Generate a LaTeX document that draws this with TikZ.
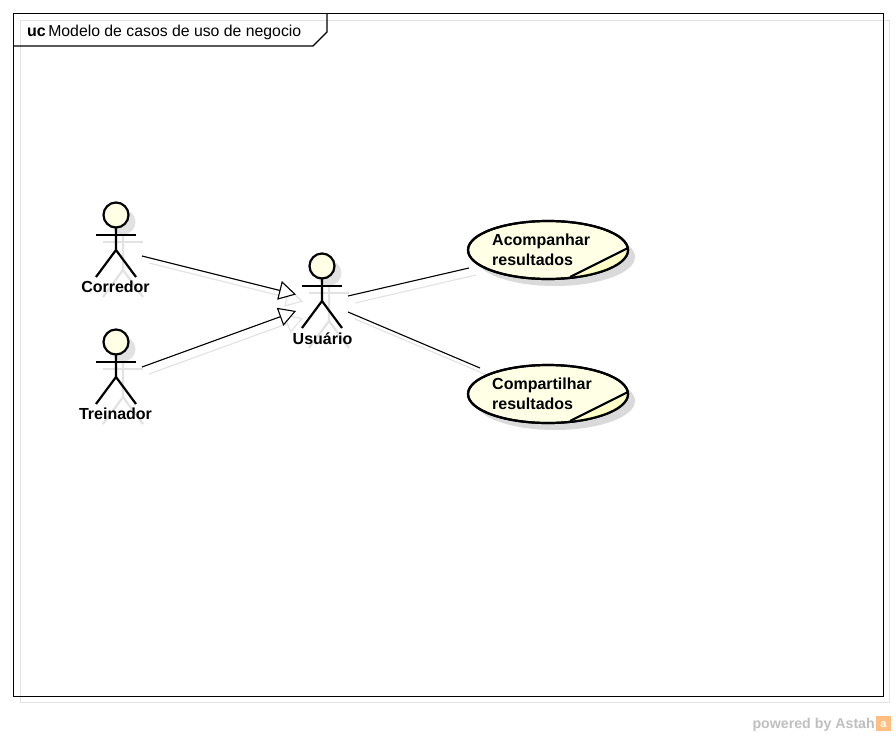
\documentclass[tikz,border=0pt]{standalone}
\usepackage{fontspec}
\setmainfont{Liberation Sans}
\usetikzlibrary{arrows.meta,positioning,calc,shapes.geometric}
\definecolor{ucfill}{HTML}{FFFFE6}
\definecolor{ucnote}{HTML}{FFFFC8}
\definecolor{ucshade}{HTML}{E2E2E2}
\definecolor{ucshadow}{HTML}{DADADA}
\newcommand{\actorshade}[1]{%
    \fill[ucshade] ($(#1)+(7,7)$) circle (12.5);
    \draw[shadeline] ($(#1)+(-13,27)$) -- ++(40,0);
    \draw[shadeline] ($(#1)+(7,20)$) -- ++(0,35) -- ++(-20,27);
    \draw[shadeline] ($(#1)+(7,55)$) -- ++(20,27);
}
\newcommand{\actorbody}[1]{%
    \draw[figline] ($(#1)+(-20,20)$) -- ++(40,0);
    \draw[figline] ($(#1)+(0,12)$) -- ++(0,23) -- ++(-20,27);
    \draw[figline] ($(#1)+(0,35)$) -- ++(20,27);
}
\begin{document}
\begin{tikzpicture}[
    x=1pt,y=-1pt,
    figline/.style={black,line width=2.2pt},
    shadeline/.style={ucshade,line width=2.2pt},
    head/.style={circle,draw,line width=2.2pt,fill=ucfill,minimum size=25pt,inner sep=0pt},
    label/.style={font=\bfseries\fontsize{16}{16}\selectfont,inner sep=0pt},
    usecase/.style={ellipse,draw,line width=2.2pt,fill=ucfill,minimum width=160pt,minimum height=58pt,inner sep=0pt},
    usetext/.style={font=\bfseries\fontsize{16}{20}\selectfont,align=left,inner sep=0pt,anchor=west},
    link/.style={black,line width=1.1pt},
    linkshade/.style={ucshade,line width=1.1pt},
    gen/.style={link,-{Triangle[open,fill=white,length=17pt,width=19pt,line width=1.1pt]}},
    genshade/.style={linkshade,-{Triangle[open,length=17pt,width=19pt,line width=1.1pt]}}
]
    \useasboundingbox (0,0) rectangle (896,736);
    \fill[white] (0,0) rectangle (896,736);

    % frame
    \draw[ucshade,line width=1.1pt] (20.5,20.5) rectangle (889.5,702.5);
    \draw[black,line width=1.1pt] (13.5,13.5) rectangle (883.5,696.5);
    \draw[black,line width=1.1pt] (13.5,46) -- (313,46) -- (327,32) -- (327,13.5);
    \node[inner sep=0pt,anchor=base west,font=\bfseries\fontsize{16}{16}\selectfont] (uckey) at (27,36.5) {uc};
    \node[inner sep=0pt,font=\fontsize{15.8}{16}\selectfont,right=2pt of uckey.base east,anchor=base west] (uctitle) {Modelo de casos de uso de negocio};

    \coordinate (corredorhead) at (116,215);
    \coordinate (treinadorhead) at (116,342);
    \coordinate (usuariohead) at (322,266);
    \coordinate (corredorout) at (142,256);
    \coordinate (treinadorout) at (142,367);
    \coordinate (usuarioin1) at (296,294.5);
    \coordinate (usuarioin2) at (296,311);
    \coordinate (usuarioout1) at (348,296);
    \coordinate (usuarioout2) at (348,312);
    \coordinate (acompin) at (469,268);
    \coordinate (compin) at (480,368);

    % shadows
    \actorshade{corredorhead}
    \actorshade{treinadorhead}
    \actorshade{usuariohead}
    \draw[genshade] ($(corredorout)+(7,7)$) -- ($(usuarioin1)+(7,7)$);
    \draw[genshade] ($(treinadorout)+(7,7)$) -- ($(usuarioin2)+(7,7)$);
    \draw[linkshade] ($(usuarioout1)+(7,7)$) -- ($(acompin)+(7,7)$);
    \draw[linkshade] ($(usuarioout2)+(7,7)$) -- ($(compin)+(7,7)$);
    \fill[ucshadow] (555,257) ellipse (80 and 29);
    \fill[ucshadow] (555,401) ellipse (80 and 29);

    % actors
    \actorbody{corredorhead}
    \actorbody{treinadorhead}
    \actorbody{usuariohead}
    \node[head] (corredor) at (corredorhead) {};
    \node[head] (treinador) at (treinadorhead) {};
    \node[head] (usuario) at (usuariohead) {};
    \node[label] (corredorlabel) at (115.5,287) {Corredor};
    \node[label] (treinadorlabel) at (115.5,414) {Treinador};
    \node[label] (usuariolabel) at (322.5,339) {Usuário};

    % use cases
    \node[usecase] (acomp) at (548,250) {};
    \node[usecase] (comp) at (548,394) {};
    \begin{scope}
        \clip (548,250) ellipse (80 and 29);
        \fill[ucnote] (570,277) -- (628,248) -- (640,290) -- cycle;
    \end{scope}
    \begin{scope}
        \clip (548,394) ellipse (80 and 29);
        \fill[ucnote] (570,421) -- (628,392) -- (640,434) -- cycle;
    \end{scope}
    \draw[figline] (570,277) -- (628,248);
    \draw[figline] (570,421) -- (628,392);
    \draw[line width=2.2pt] (548,250) ellipse (80 and 29);
    \draw[line width=2.2pt] (548,394) ellipse (80 and 29);
    \node[usetext] (acomptext) at (492,250) {Acompanhar\\resultados};
    \node[usetext] (comptext) at (492,394) {Compartilhar\\resultados};

    % connectors
    \draw[gen] (corredorout) -- (usuarioin1);
    \draw[gen] (treinadorout) -- (usuarioin2);
    \draw[link] (usuarioout1) -- (acompin);
    \draw[link] (usuarioout2) -- (compin);

    % footer
    \node[inner sep=0pt,anchor=base east,font=\bfseries\fontsize{14.2}{14}\selectfont,text=black!25] (powered) at (875,728) {powered by Astah};
    \fill[orange!50] (876,716) rectangle (891,731);
    \node[inner sep=0pt,font=\bfseries\fontsize{11}{11}\selectfont,text=white] (astahmark) at (883.5,725) {a};
\end{tikzpicture}
\end{document}
